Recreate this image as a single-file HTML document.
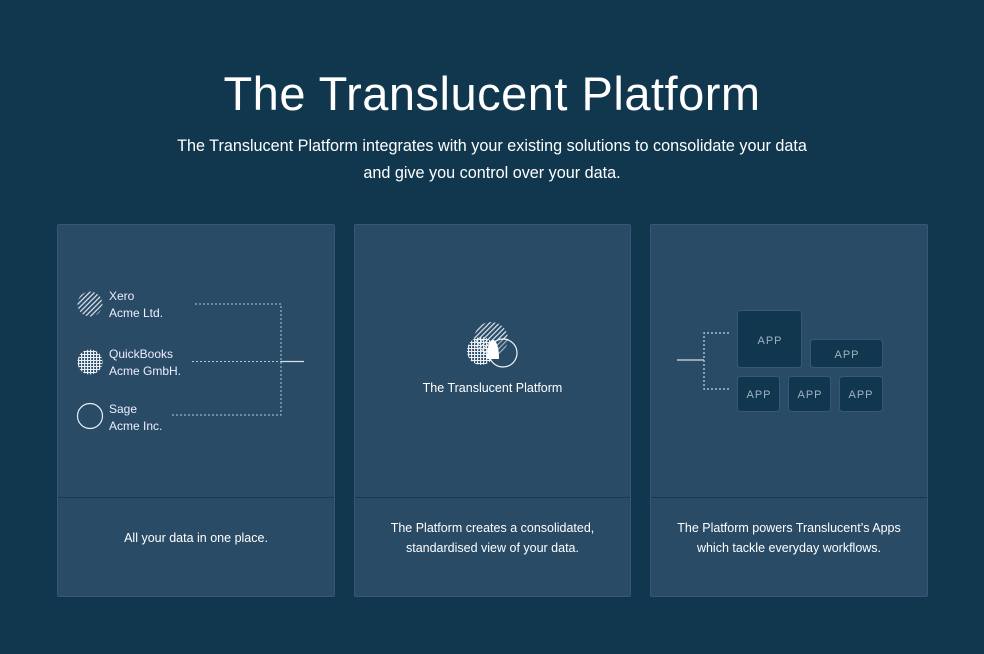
<!DOCTYPE html>
<html><head><meta charset="utf-8"><style>
*{margin:0;padding:0;box-sizing:border-box}
body{width:984px;height:654px;background:#11374f;font-family:"Liberation Sans",sans-serif;color:#fff;position:relative;overflow:hidden}
.a{position:absolute}
.card{position:absolute;top:224px;height:373px;background:#294b66;border:1px solid #35587a;border-radius:2px}
.div{position:absolute;left:0;right:0;top:272px;border-top:1px solid #17394f}
.cap{position:absolute;left:0;right:0;top:263px;height:99px;display:flex;align-items:center;justify-content:center;text-align:center;font-size:12.5px;line-height:20px}
.t{font-size:12px;line-height:17px;color:#eef}
</style></head><body>
<div class="a" style="left:0;width:984px;top:66px;text-align:center;font-size:47px;letter-spacing:0.5px">The Translucent Platform</div>
<div class="a" style="left:0;width:984px;top:133px;text-align:center;font-size:16.2px;line-height:27px">The Translucent Platform integrates with your existing solutions to consolidate your data<br>and give you control over your data.</div>

<div class="card" style="left:57px;width:278px"><div class="div"></div><div class="cap">All your data in one place.</div></div>
<div class="card" style="left:354px;width:277px"><div class="div"></div><div class="cap">The Platform creates a consolidated,<br>standardised view of your data.</div></div>
<div class="card" style="left:650px;width:278px"><div class="div"></div><div class="cap">The Platform powers Translucent’s Apps<br>which tackle everyday workflows.</div></div>

<svg class="a" style="left:0;top:0" width="984" height="654">
<defs>
<pattern id="hatch" width="3.5" height="3.5" patternUnits="userSpaceOnUse" patternTransform="rotate(-45)"><rect width="4" height="1.2" fill="#dfe6ee"/></pattern>
<pattern id="grid" width="3" height="3" patternUnits="userSpaceOnUse"><rect width="1.2" height="3" fill="#e8eef4"/><rect width="3" height="1" fill="#e8eef4"/></pattern>
<clipPath id="c1"><circle cx="90" cy="304" r="12.5"/></clipPath>
<clipPath id="c2"><circle cx="90" cy="362" r="12.5"/></clipPath>
</defs>
<g clip-path="url(#c1)"><rect x="76" y="290" width="30" height="30" fill="url(#hatch)"/></g>
<g clip-path="url(#c2)"><rect x="76" y="348" width="30" height="30" fill="url(#grid)"/></g>
<circle cx="90" cy="416" r="12.5" fill="none" stroke="#e8eef4" stroke-width="1.2"/>
<g fill="none" stroke="#b8c8d6" stroke-width="1" stroke-dasharray="2,2">
<path d="M195 304 H281 V415 H170"/>
<path d="M192 361.5 H281"/>
</g>
<path d="M281 361.5 H304" stroke="#d8e0e8" stroke-width="1.2"/>

<g fill="none" stroke="#c8d4de" stroke-width="1.2" stroke-dasharray="2,2"><path d="M729 333 H704 V389 H729"/></g>
<path d="M677 360 H704" stroke="#b8c4ce" stroke-width="1.5"/>
<g fill="#11374f" stroke="#35587a">
<rect x="737.5" y="310.5" width="64" height="57" rx="3"/>
<rect x="810.5" y="339.5" width="72" height="28" rx="3"/>
<rect x="737.5" y="376.5" width="42" height="35" rx="3"/>
<rect x="788.5" y="376.5" width="42" height="35" rx="3"/>
<rect x="839.5" y="376.5" width="43" height="35" rx="3"/>
</g>
<g fill="#9fb2c2" font-size="11" font-family="Liberation Sans" text-anchor="middle" letter-spacing="1">
<text x="770" y="344">APP</text><text x="847" y="358">APP</text>
<text x="759" y="398">APP</text><text x="810" y="398">APP</text><text x="861" y="398">APP</text>
</g>

<clipPath id="c3"><circle cx="491" cy="339" r="17"/></clipPath>
<clipPath id="c4"><circle cx="481" cy="351" r="14"/></clipPath>
<g clip-path="url(#c3)"><rect x="470" y="318" width="45" height="45" fill="url(#hatch)"/></g>
<g clip-path="url(#c4)"><rect x="465" y="335" width="32" height="32" fill="url(#grid)"/></g>
<circle cx="503" cy="353" r="14" fill="#294b66" fill-opacity="0.3" stroke="#f0f4f8" stroke-width="1.2"/>
<path d="M487 359 C487 346 490 340 493 340 C496 340 499 346 499 359 Z" fill="#fff"/>
</svg>
<div class="a t" style="left:109px;top:288px">Xero<br>Acme Ltd.</div>
<div class="a t" style="left:109px;top:346px">QuickBooks<br>Acme GmbH.</div>
<div class="a t" style="left:109px;top:401px">Sage<br>Acme Inc.</div>
<div class="a" style="left:354px;width:277px;top:381px;text-align:center;font-size:12.5px">The Translucent Platform</div>
</body></html>
